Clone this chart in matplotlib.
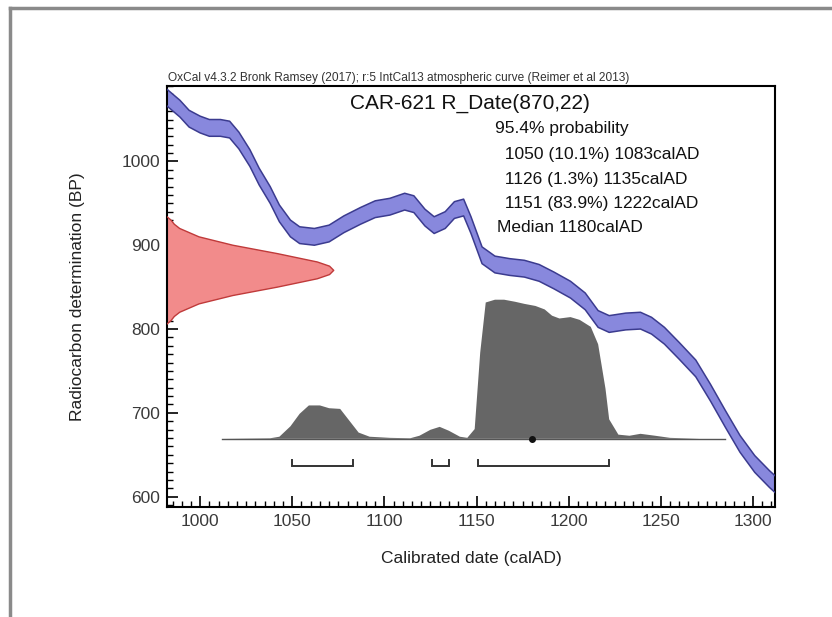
import matplotlib
matplotlib.use("Agg")
import matplotlib.pyplot as plt
from matplotlib.lines import Line2D
from matplotlib.ticker import MultipleLocator
import numpy as np

plt.rcParams['font.family'] = ['Liberation Sans', 'DejaVu Sans']

# ---- Data ----
title = "CAR-621 R_Date(870,22)"
header = "OxCal v4.3.2 Bronk Ramsey (2017); r:5 IntCal13 atmospheric curve (Reimer et al 2013)"
summary_lines = ["95.4% probability",
                 "  1050 (10.1%) 1083calAD",
                 "  1126 (1.3%) 1135calAD",
                 "  1151 (83.9%) 1222calAD",
                 "Median 1180calAD"]

# calibration curve (IntCal13) centre line and half-width
curve_year = [981, 989, 994, 1000, 1005, 1011, 1016, 1021, 1027, 1032, 1038, 1043, 1049,
              1054, 1062, 1070, 1078, 1087, 1095, 1103, 1111, 1116, 1122, 1127, 1133,
              1138, 1143, 1147, 1153, 1160, 1168, 1176, 1184, 1192, 1201, 1209, 1216,
              1222, 1231, 1239, 1245, 1252, 1260, 1269, 1277, 1285, 1293, 1301, 1309, 1315]
curve_bp = [1078, 1063, 1051, 1044, 1040, 1040, 1038, 1025, 1004, 982, 960, 938, 920,
            912, 910, 914, 925, 935, 943, 946, 952, 949, 933, 924, 930,
            942, 945, 924, 888, 877, 874, 872, 867, 858, 847, 833, 812,
            806, 809, 810, 804, 792, 774, 753, 724, 693, 663, 639, 621, 609]
curve_sigma = 10

# radiocarbon date distribution (BP) and relative probability
rdate_bp = [934, 930, 925, 920, 910, 900, 890, 880, 875, 870, 865, 860, 850, 840, 830,
            820, 815, 810, 806]
rdate_p = [0.0, 0.024, 0.044, 0.076, 0.192, 0.395, 0.662, 0.902, 0.975, 1.0, 0.975,
           0.902, 0.662, 0.395, 0.192, 0.076, 0.044, 0.024, 0.0]

# calibrated probability distribution (calAD) and relative probability
cal_year = [1012, 1038, 1043, 1049, 1054, 1059, 1065, 1070, 1076, 1081, 1086, 1092,
            1103, 1114, 1119, 1125, 1130, 1135, 1141, 1145, 1149, 1152, 1155, 1160,
            1165, 1171, 1176, 1182, 1187, 1191, 1195, 1201, 1206, 1212, 1216, 1220,
            1222, 1227, 1233, 1239, 1247, 1255, 1271, 1285]
cal_p = [0.0, 0.004, 0.015, 0.09, 0.18, 0.24, 0.24, 0.22, 0.215, 0.13, 0.045, 0.015,
         0.007, 0.004, 0.022, 0.065, 0.086, 0.058, 0.015, 0.007, 0.07, 0.62, 0.98, 1.0,
         1.0, 0.985, 0.97, 0.955, 0.93, 0.885, 0.865, 0.875, 0.855, 0.805, 0.68, 0.36,
         0.14, 0.03, 0.022, 0.036, 0.022, 0.007, 0.0, 0.0]
median_year = 1180

ranges_from = [1050, 1126, 1151]
ranges_to = [1083, 1135, 1222]

# ---- Figure ----
fig = plt.figure(figsize=(8.32, 6.17), dpi=100)
ax = fig.add_axes([167/832, 1-506.7/617, 608/832, 420.7/617])

xmin, xmax = 982, 1312
ymin, ymax = 588, 1090
ax.set_xlim(xmin, xmax)
ax.set_ylim(ymin, ymax)

# calibration band
cy = np.array(curve_year)
cb = np.array(curve_bp)
ax.fill_between(cy, cb - curve_sigma, cb + curve_sigma, facecolor='#8888dd',
                edgecolor='none', zorder=2)
ax.plot(cy, cb - curve_sigma, color='#3b3b8f', lw=1.1, zorder=3)
ax.plot(cy, cb + curve_sigma, color='#3b3b8f', lw=1.1, zorder=3)

# R_Date distribution on the y axis
rdate_width = 90.5
rp = np.array(rdate_p)
ax.fill_betweenx(rdate_bp, xmin, xmin + rdate_width * rp, facecolor='#f28b8b',
                 edgecolor='none', zorder=2)
ax.plot(xmin + rdate_width * rp, rdate_bp, color='#c03a3a', lw=1.0, zorder=3)

# calibrated distribution
base_bp = 669
dist_height = 166
cp = np.array(cal_p)
ax.fill_between(cal_year, base_bp, base_bp + dist_height * cp, facecolor='#666666',
                edgecolor='none', zorder=2)
ax.plot([cal_year[0], cal_year[-1]], [base_bp, base_bp], color='#555555', lw=1.0, zorder=3)
ax.plot([median_year], [base_bp], 'o', color='#111111', ms=4, zorder=4)

# range brackets
br_y = 637
br_h = 7
for a, b in zip(ranges_from, ranges_to):
    ax.plot([a, a, b, b], [br_y + br_h, br_y, br_y, br_y + br_h], color='#333333',
            lw=1.4, zorder=3, solid_joinstyle='miter')

# axes styling
for s in ax.spines.values():
    s.set_linewidth(1.5)
    s.set_color('black')
ax.xaxis.set_major_locator(MultipleLocator(50))
ax.xaxis.set_minor_locator(MultipleLocator(5))
ax.yaxis.set_major_locator(MultipleLocator(100))
ax.yaxis.set_minor_locator(MultipleLocator(10))
ax.tick_params(which='major', direction='in', length=8, width=1.2, labelsize=12.5,
               labelcolor='#3a3a3a', top=False, right=False, pad=5)
ax.tick_params(which='minor', direction='in', length=4, width=1.0, top=False, right=False)

ax.set_xlabel("Calibrated date (calAD)", fontsize=12.5, color='#222222', labelpad=16)
ax.set_ylabel("Radiocarbon determination (BP)", fontsize=12.5, color='#222222', labelpad=26)

# texts
ax.text(0.498, 0.958, title, transform=ax.transAxes, ha='center', va='center',
        fontsize=15, color='#111111')
ys = [0.900, 0.838, 0.7786, 0.7218, 0.663]
xs = [0.5395, 0.5395, 0.5395, 0.5395, 0.5428]
for t, x, y in zip(summary_lines, xs, ys):
    ax.text(x, y, t, transform=ax.transAxes, ha='left', va='center', fontsize=12.5,
            color='#111111')

fig.text(168/832, 1-77.5/617, header, ha='left', va='center', fontsize=8.6, color='#333333')

# outer frame
fig.add_artist(Line2D([10/832, 10/832], [0, 1-8/617], transform=fig.transFigure,
                      color='#8a8a8a', lw=2.5))
fig.add_artist(Line2D([10/832, 1], [1-8/617, 1-8/617], transform=fig.transFigure,
                      color='#8a8a8a', lw=2.5))

fig.savefig("out.png", dpi=100)
